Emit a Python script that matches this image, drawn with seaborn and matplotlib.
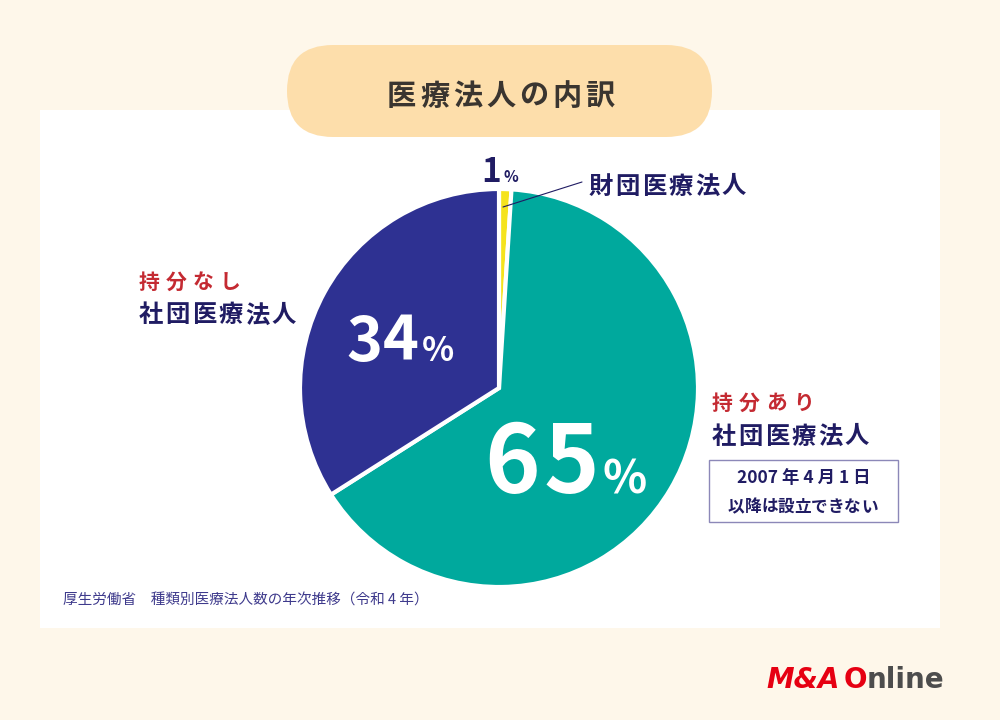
import matplotlib.pyplot as plt
from matplotlib.patches import FancyBboxPatch, Rectangle
import seaborn as sns

sns.set_theme(style="white")
plt.rcParams['font.family'] = ['Noto Sans CJK JP', 'DejaVu Sans']

# data
categories = ["財団医療法人", "持分あり社団医療法人", "持分なし社団医療法人"]
shares = [1, 65, 34]
colors = ["#F5E31E", "#00A99D", "#2E3192"]

NAVY = "#201C63"
RED = "#C42A32"

fig = plt.figure(figsize=(10, 7.2), dpi=100)
fig.patch.set_facecolor("#FEF7EA")

# background layer in pixel coordinates
bg = fig.add_axes([0, 0, 1, 1])
bg.set_xlim(0, 1000)
bg.set_ylim(720, 0)
bg.axis("off")
bg.add_patch(Rectangle((40, 110), 900, 518, facecolor="white", edgecolor="none"))
bg.add_patch(FancyBboxPatch((287, 45), 425, 92, boxstyle="round,pad=0,rounding_size=46",
                            facecolor="#FDDEAB", edgecolor="none"))

# pie
cx, cy, rad = 499, 388, 199
ax = fig.add_axes([(cx - rad) / 1000, 1 - (cy + rad) / 720, 2 * rad / 1000, 2 * rad / 720])
ax.pie(shares, colors=colors, startangle=90, counterclock=False,
       wedgeprops=dict(edgecolor="white", linewidth=3))
ax.set_xlim(-1.0, 1.0)
ax.set_ylim(-1.0, 1.0)
ax.set_aspect("equal")

# text layer
top = fig.add_axes([0, 0, 1, 1])
top.set_xlim(0, 1000)
top.set_ylim(720, 0)
top.axis("off")
top.patch.set_alpha(0)

fig.canvas.draw()
r = fig.canvas.get_renderer()


def spaced(x, y, s, size, pitch, **kw):
    # CJK text with letter spacing
    for i, ch in enumerate(s):
        top.text(x + i * pitch, y, ch, fontsize=size, ha="left", va="center_baseline", **kw)


def pct(x, y, value, size, psize, gap, color):
    # number drawn digit by digit leftwards from x, "%" to the right
    top.text(x + 3, y, "%", fontsize=psize, fontweight="bold", color=color, ha="left", va="baseline")
    for d in reversed(str(value)):
        t = top.text(x, y, d, fontsize=size, fontweight="bold", color=color, ha="right", va="baseline")
        x -= t.get_window_extent(r).width + gap


spaced(387, 93, "医療法人の内訳", 21, 33, color="#3A3530", fontweight="bold")

# 財団
pct(501, 182, shares[0], 24, 11, 0, NAVY)
top.plot([503, 582], [207, 182], color=NAVY, lw=0.8)
spaced(589, 184, "財団医療法人", 17.5, 26.5, color=NAVY, fontweight="bold")

# 持分なし
spaced(139, 280, "持分なし", 15, 27, color=RED, fontweight="bold")
spaced(139, 313, "社団医療法人", 17.5, 26.5, color=NAVY, fontweight="bold")
pct(419, 361, shares[2], 44, 24, 1, "white")

# 持分あり
spaced(712, 401, "持分あり", 15, 27, color=RED, fontweight="bold")
spaced(712, 434, "社団医療法人", 17.5, 26.5, color=NAVY, fontweight="bold")
pct(599, 493, shares[1], 68, 33, 3, "white")

top.add_patch(Rectangle((709, 460), 189, 62, facecolor="white", edgecolor="#8C88B8", lw=1))
top.text(804, 478, "2007 年 4 月 1 日", fontsize=12.5, fontweight="bold", color=NAVY, ha="center", va="center")
spaced(728, 505, "以降は設立できない", 12, 16.6, color=NAVY, fontweight="bold")

# source
top.text(63, 601, "厚生労働省　種類別医療法人数の年次推移（令和 4 年）", fontsize=10.5,
         color="#3E3A8C", ha="left", va="center")

# logo
x = 766
for s, c in [("M&A", "#E60012"), ("O", "#E60012"), ("nline", "#4D4D4D")]:
    t = top.text(x, 688, s, fontsize=20, fontweight="bold", color=c, ha="left", va="baseline",
                 family="DejaVu Sans", style="italic" if s == "M&A" else "normal")
    x += t.get_window_extent(r).width + (4 if s == "M&A" else 0)

fig.savefig("out.png", dpi=100, facecolor=fig.get_facecolor())
